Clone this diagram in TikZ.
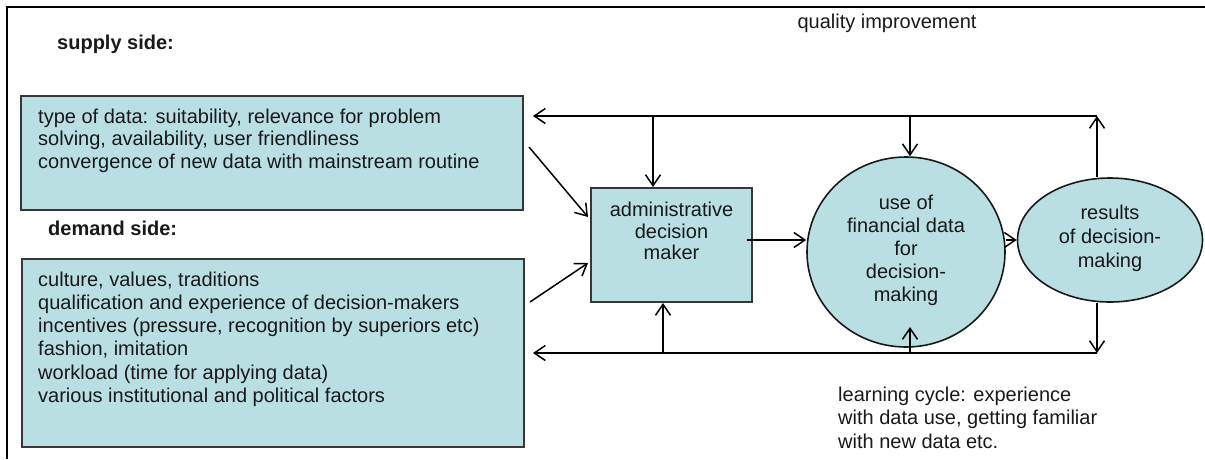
\documentclass[tikz,border=0pt]{standalone}
\usepackage{fontspec}
\setmainfont{Liberation Sans}
\usetikzlibrary{arrows.meta,shapes.geometric}
\definecolor{boxfill}{RGB}{185,223,227}
\definecolor{boxline}{RGB}{55,55,55}
\begin{document}
\begin{tikzpicture}[x=1pt,y=-1pt,
  every node/.style={font=\fontsize{20}{22.5}\selectfont,text=black!90},
  panel/.style={draw=boxline,line width=2pt,fill=boxfill,rectangle,inner sep=0pt},
  oval/.style={draw=black!90,line width=1.6pt,fill=boxfill,ellipse,inner sep=0pt},
  txt/.style={inner sep=0pt,align=left},
  ctxt/.style={inner sep=0pt,align=center},
  head/.style={inner sep=0pt,anchor=west,font=\bfseries\fontsize{20}{24}\selectfont},
  arr/.style={line width=1.5pt,-{Straight Barb[length=11pt,width=15pt,line width=1.5pt]}},
  frame/.style={line width=1.5pt}]
\useasboundingbox (0,0) rectangle (1205,459);
% frame
\draw[frame] (1205,7) -- (7,7) -- (7,459);
% boxes
\node[panel,minimum width=502pt,minimum height=114pt] (supply) at (272,153) {};
\node[panel,minimum width=502pt,minimum height=188pt] (demand) at (273,353) {};
\node[panel,minimum width=161pt,minimum height=114pt] (admin) at (671.5,245) {};
\node[oval,minimum width=198pt,minimum height=190pt] (use) at (906,252) {};
\node[oval,minimum width=185pt,minimum height=124pt] (res) at (1110,240) {};
% texts
\node[head] (supplyhead) at (57,44) {supply side:};
\node[head] (demandhead) at (48,228) {demand side:};
\node[ctxt] (quality) at (887,23) {quality improvement};
\node[txt,anchor=north west] (supplytext) at (38,108.5)
  {type of data: suitability, relevance for problem\\
   solving, availability, user friendliness\\
   convergence of new data with mainstream routine};
\node[txt,anchor=north west,font=\fontsize{20}{23.2}\selectfont] (demandtext) at (38,271.5)
  {culture, values, traditions\\
   qualification and experience of decision-makers\\
   incentives (pressure, recognition by superiors etc)\\
   fashion, imitation\\
   workload (time for applying data)\\
   various institutional and political factors};
\node[txt,anchor=north west,font=\fontsize{20}{23.5}\selectfont] (learning) at (838,386.5)
  {learning cycle: experience\\
   with data use, getting familiar\\
   with new data etc.};
\node[ctxt,font=\fontsize{20}{21.5}\selectfont] (admintext) at (671.5,231) {administrative\\decision\\maker};
\node[ctxt,font=\fontsize{20}{23}\selectfont] (usetext) at (906,250) {use of\\financial data\\for\\decision-\\making};
\node[ctxt,font=\fontsize{20}{24}\selectfont] (restext) at (1110,238) {results\\of decision-\\making};
% coordinates of the feedback loops
\coordinate (tr) at (1097,116);
\coordinate (tl) at (533,116);
\coordinate (br) at (1097,353);
\coordinate (bl) at (533,353);
\coordinate (t1) at (653,116);
\coordinate (t2) at (910,116);
\coordinate (b1) at (663,353);
\coordinate (b2) at (910,353);
\coordinate (b2tip) at (910,327);
% connectors
\draw[arr] ([xshift=5pt,yshift=6pt]supply.east) -- ([xshift=-2pt,yshift=28pt]admin.west);
\draw[arr] ([xshift=5pt,yshift=51pt]demand.east) -- ([xshift=-2pt,yshift=-18pt]admin.west);
\draw[arr] ([xshift=-6pt,yshift=5pt]admin.east) -- ([yshift=5pt]admin.east -| use.west);
\draw[arr] (use.east |- res.west) -- (res.west);
\draw[arr] (tr) -- (tl);
\draw[arr] (res.north -| tr) -- (tr);
\draw[arr] (t1) -- (t1 |- admin.north);
\draw[arr] (t2) -- (t2 |- use.north);
\draw[arr] (res.south -| br) -- (br);
\draw[arr] (br) -- (bl);
\draw[arr] (b1) -- (b1 |- admin.south);
\draw[arr] (b2) -- (b2tip);
\end{tikzpicture}
\end{document}
